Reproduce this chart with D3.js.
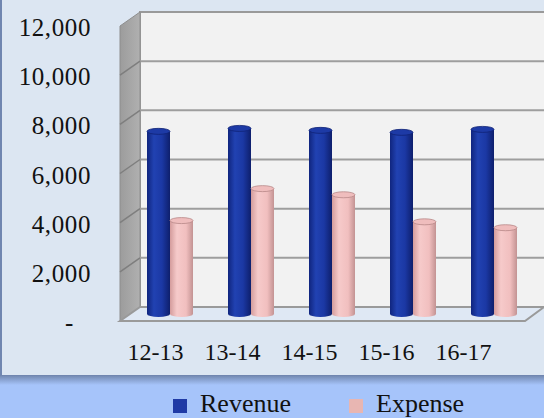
<!DOCTYPE html>
<html>
<head>
<meta charset="utf-8">
<script src="https://cdn.jsdelivr.net/npm/d3@7"></script>
<style>
  body { margin: 0; background: #a6c4fa; }
  text { font-family: "Liberation Serif", "Times New Roman", serif; fill: #111; }
</style>
</head>
<body>
<div id="chart"></div>
<script>
// chart data
var categories = ["12-13", "13-14", "14-15", "15-16", "16-17"];
var seriesNames = ["Revenue", "Expense"];
var revenue = [7430, 7550, 7470, 7390, 7510];
var expense = [3800, 5100, 4850, 3750, 3510];
var yTicks = [0, 2000, 4000, 6000, 8000, 10000, 12000];

var svgWidth = 544;
var svgHeight = 418;

// 3d depth offset of the back wall
var depthX = 20;
var depthY = -14;

var svg = d3.select("#chart")
  .append("svg")
  .attr("width", svgWidth)
  .attr("height", svgHeight);

var defs = svg.append("defs");

// cylinder shading
var blueGrad = defs.append("linearGradient").attr("id", "blueGrad");
blueGrad.append("stop").attr("offset", "0%").attr("stop-color", "#10257e");
blueGrad.append("stop").attr("offset", "30%").attr("stop-color", "#2142b2");
blueGrad.append("stop").attr("offset", "65%").attr("stop-color", "#1b38a4");
blueGrad.append("stop").attr("offset", "100%").attr("stop-color", "#0e1f6c");

var pinkGrad = defs.append("linearGradient").attr("id", "pinkGrad");
pinkGrad.append("stop").attr("offset", "0%").attr("stop-color", "#d49c9c");
pinkGrad.append("stop").attr("offset", "30%").attr("stop-color", "#f6caca");
pinkGrad.append("stop").attr("offset", "70%").attr("stop-color", "#f1bfbf");
pinkGrad.append("stop").attr("offset", "100%").attr("stop-color", "#c39393");

var shadowGrad = defs.append("linearGradient")
  .attr("id", "shadowGrad")
  .attr("x1", 0).attr("y1", 0).attr("x2", 0).attr("y2", 1);
shadowGrad.append("stop").attr("offset", "0%").attr("stop-color", "#6f85ad");
shadowGrad.append("stop").attr("offset", "100%").attr("stop-color", "#a6c4fa");

var sideGrad = defs.append("linearGradient").attr("id", "sideGrad");
sideGrad.append("stop").attr("offset", "0%").attr("stop-color", "#9c9c9c");
sideGrad.append("stop").attr("offset", "100%").attr("stop-color", "#b0b0b0");

// panel and its shadow
svg.append("rect")
  .attr("x", 0).attr("y", 375)
  .attr("width", svgWidth).attr("height", 10)
  .attr("fill", "url(#shadowGrad)");
svg.append("rect")
  .attr("x", 0).attr("y", 0)
  .attr("width", svgWidth).attr("height", 376)
  .attr("fill", "#7086b0");
svg.append("rect")
  .attr("x", 2).attr("y", 0)
  .attr("width", svgWidth - 2).attr("height", 375)
  .attr("fill", "#dce6f2");

// scales (front plane)
var yFront = d3.scaleLinear()
  .domain([0, 12000])
  .range([321, 26]);

var xBand = d3.scaleBand()
  .domain(categories)
  .range([120, 525]);

var xSeries = d3.scaleBand()
  .domain(seriesNames)
  .range([17, 63]);

var xLabel = d3.scalePoint()
  .domain(categories)
  .range([155, 463]);

// back wall
svg.append("rect")
  .attr("x", 120 + depthX)
  .attr("y", yFront(12000) + depthY)
  .attr("width", svgWidth - 120 - depthX + 4)
  .attr("height", yFront(0) - yFront(12000))
  .attr("fill", "#f2f2f2")
  .attr("stroke", "#9a9a9a")
  .attr("stroke-width", 2);

// side wall
svg.append("polygon")
  .attr("points", [
    [120, yFront(12000)],
    [120 + depthX, yFront(12000) + depthY],
    [120 + depthX, yFront(0) + depthY],
    [120, yFront(0)]
  ].join(" "))
  .attr("fill", "url(#sideGrad)")
  .attr("stroke", "#8e8e8e")
  .attr("stroke-width", 1);

// gridlines on back wall and side wall
svg.append("g")
  .selectAll("line")
  .data(yTicks.slice(1, -1))
  .enter()
  .append("line")
  .attr("x1", 120 + depthX)
  .attr("x2", svgWidth)
  .attr("y1", d => yFront(d) + depthY)
  .attr("y2", d => yFront(d) + depthY)
  .attr("stroke", "#9e9e9e")
  .attr("stroke-width", 2);

svg.append("g")
  .selectAll("line")
  .data(yTicks.slice(1, -1))
  .enter()
  .append("line")
  .attr("x1", 120)
  .attr("x2", 120 + depthX)
  .attr("y1", d => yFront(d))
  .attr("y2", d => yFront(d) + depthY)
  .attr("stroke", "#7e7e7e")
  .attr("stroke-width", 1.5);

// floor
svg.append("polygon")
  .attr("points", [
    [120, yFront(0)],
    [120 + depthX, yFront(0) + depthY],
    [544, yFront(0) + depthY],
    [525, yFront(0)]
  ].join(" "))
  .attr("fill", "#dfe8f4")
  .attr("stroke", "#9a9a9a")
  .attr("stroke-width", 2);

// bars as cylinders, placed half way into the depth
var midX = depthX / 2;
var midY = depthY / 2;
var ry = 3;

var barData = [];
categories.forEach(function(c, i) {
  barData.push({ cat: c, series: "Revenue", value: revenue[i], fill: "url(#blueGrad)", cap: "#1d3aa6", edge: "#0f2275" });
  barData.push({ cat: c, series: "Expense", value: expense[i], fill: "url(#pinkGrad)", cap: "#efbdbd", edge: "#b88888" });
});

var bars = svg.append("g")
  .selectAll("g")
  .data(barData)
  .enter()
  .append("g");

var bw = xSeries.bandwidth();

bars.append("ellipse")
  .attr("cx", d => xBand(d.cat) + xSeries(d.series) + midX + bw / 2)
  .attr("cy", yFront(0) + midY)
  .attr("rx", bw / 2)
  .attr("ry", ry)
  .attr("fill", d => d.fill);

bars.append("rect")
  .attr("x", d => xBand(d.cat) + xSeries(d.series) + midX)
  .attr("y", d => yFront(d.value) + midY)
  .attr("width", bw)
  .attr("height", d => yFront(0) - yFront(d.value))
  .attr("fill", d => d.fill);

bars.append("ellipse")
  .attr("cx", d => xBand(d.cat) + xSeries(d.series) + midX + bw / 2)
  .attr("cy", d => yFront(d.value) + midY)
  .attr("rx", bw / 2)
  .attr("ry", ry)
  .attr("fill", d => d.cap)
  .attr("stroke", d => d.edge)
  .attr("stroke-width", 0.8);

// y axis labels
var leftAxis = d3.axisLeft(yFront)
  .tickValues(yTicks)
  .tickSize(0)
  .tickPadding(0)
  .tickFormat(d => d === 0 ? "-" : d3.format(",")(d));

var yAxis = svg.append("g")
  .attr("transform", "translate(91, 0)")
  .call(leftAxis);

yAxis.select(".domain").remove();
yAxis.selectAll("text")
  .attr("font-size", 25)
  .attr("letter-spacing", "0.6px")
  .attr("font-family", "Liberation Serif, serif")
  .attr("fill", "#111")
  .attr("dy", "0.38em");

// accounting zero sits further left
yAxis.selectAll(".tick")
  .filter(d => d === 0)
  .select("text")
  .attr("x", -17);

// category labels
var bottomAxis = d3.axisBottom(xLabel)
  .tickSize(0)
  .tickPadding(0);

var xAxis = svg.append("g")
  .attr("transform", "translate(0, 341)")
  .call(bottomAxis);

xAxis.select(".domain").remove();
xAxis.selectAll("text")
  .attr("font-size", 24)
  .attr("font-family", "Liberation Serif, serif")
  .attr("fill", "#111")
  .attr("dy", "0.8em");

// legend
var legendColors = ["#1f3aa6", "#e8b6b2"];
var legendX = [173, 349];

var legend = svg.append("g")
  .selectAll("g")
  .data(seriesNames)
  .enter()
  .append("g")
  .attr("transform", (d, i) => `translate(${legendX[i]}, 399)`);

legend.append("rect")
  .attr("width", 14)
  .attr("height", 14)
  .attr("fill", (d, i) => legendColors[i]);

legend.append("text")
  .attr("x", 27)
  .attr("y", 13)
  .attr("font-size", 26)
  .text(d => d);
</script>
</body>
</html>
